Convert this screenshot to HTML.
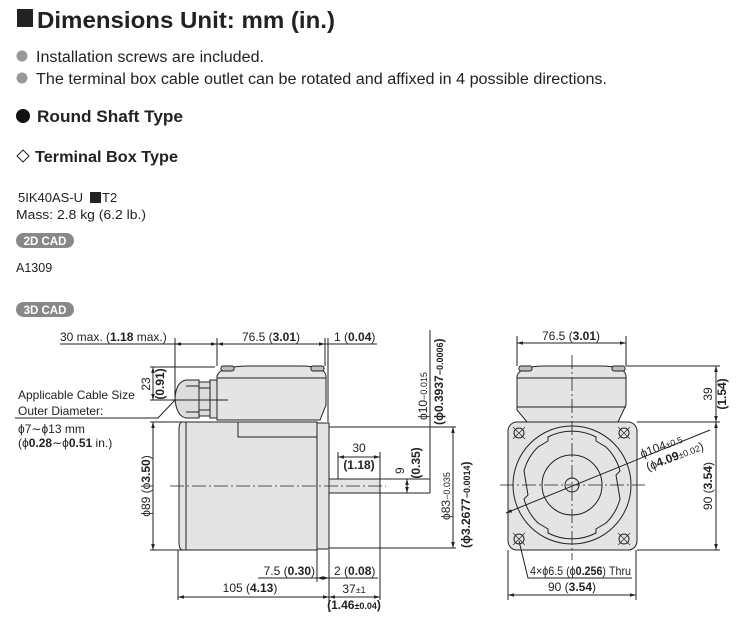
<!DOCTYPE html>
<html><head><meta charset="utf-8"><style>
html,body{margin:0;padding:0;background:#fff;}
svg{display:block;font-family:"Liberation Sans",sans-serif;}
</style></head><body>
<svg width="746" height="635" viewBox="0 0 746 635" xmlns="http://www.w3.org/2000/svg">
<defs>
<marker id="a" viewBox="0 0 10 10" refX="10" refY="5" markerWidth="6" markerHeight="6" orient="auto-start-reverse"><path d="M0,2L10,5L0,8z" fill="#222"/></marker>
</defs>
<!-- header -->
<rect x="17" y="9" width="16" height="18" fill="#222"/>
<text x="37" y="28" font-size="23" font-weight="bold" fill="#222" textLength="298" lengthAdjust="spacingAndGlyphs">Dimensions Unit: mm (in.)</text>
<circle cx="22" cy="56" r="5.5" fill="#999"/>
<text x="36" y="62" font-size="15.5" fill="#222" textLength="228" lengthAdjust="spacingAndGlyphs">Installation screws are included.</text>
<circle cx="22" cy="78" r="5.5" fill="#999"/>
<text x="36" y="84" font-size="15.5" fill="#222" textLength="571" lengthAdjust="spacingAndGlyphs">The terminal box cable outlet can be rotated and affixed in 4 possible directions.</text>
<circle cx="23" cy="116" r="7" fill="#111"/>
<text x="37" y="122" font-size="17" fill="#222" font-weight="bold" textLength="146" lengthAdjust="spacingAndGlyphs">Round Shaft Type</text>
<path d="M23,150L29,156L23,162L17,156z" fill="none" stroke="#222" stroke-width="1"/>
<text x="35" y="162" font-size="16" font-weight="bold" fill="#222" textLength="143" lengthAdjust="spacingAndGlyphs">Terminal Box Type</text>
<text x="18" y="202" font-size="13" fill="#222">5IK40AS-U</text>
<rect x="90" y="192" width="11" height="11" fill="#222"/>
<text x="102" y="202" font-size="13" fill="#222">T2</text>
<text x="16" y="219" font-size="13" fill="#222" textLength="130" lengthAdjust="spacingAndGlyphs">Mass: 2.8 kg (6.2 lb.)</text>
<rect x="16" y="233" width="58" height="15" rx="7.5" fill="#888"/>
<text x="45" y="245" font-size="11.5" font-weight="bold" fill="#fff" text-anchor="middle">2D CAD</text>
<text x="16" y="272" font-size="12.5" fill="#222">A1309</text>
<rect x="16" y="302" width="58" height="15" rx="7.5" fill="#888"/>
<text x="45" y="314" font-size="11.5" font-weight="bold" fill="#fff" text-anchor="middle">3D CAD</text>

<g stroke="#222" stroke-width="1" fill="none">
<!-- left view -->
<path d="M186,422 L182,422 Q179,422 179,430 L179,542 Q179,550 183,550 L186,550z" fill="#e4e4e4"/>
<rect x="186" y="422" width="131" height="128" fill="#e4e4e4"/>
<rect x="317" y="423" width="12" height="126" fill="#e4e4e4"/>
<rect x="238" y="422" width="79" height="15" fill="#e4e4e4"/>
<path d="M217,420 L217,376 Q220,366 250,366 L300,366 Q325,366 326,376 L326,405 L320,420z" fill="#e4e4e4"/>
<line x1="217" y1="378" x2="326" y2="378"/>
<rect x="221" y="366" width="13" height="5" rx="2" fill="#bbb"/>
<rect x="311" y="366" width="13" height="5" rx="2" fill="#bbb"/>
<path d="M210,380 L217,380 L217,418 L210,418z" fill="#ddd"/>
<path d="M199,382 L210,382 L210,416 L199,416z" fill="#ddd"/>
<path d="M186,380 Q176,382 175,398 Q176,416 186,418 L199,418 L199,380z" fill="#ddd"/>
<line x1="199" y1="388" x2="210" y2="388"/><line x1="199" y1="410" x2="210" y2="410"/>
<line x1="186" y1="386" x2="199" y2="386"/><line x1="186" y1="412" x2="199" y2="412"/>
<rect x="329" y="479" width="51" height="14" fill="#e4e4e4"/>
<line x1="170" y1="486" x2="386" y2="486" stroke-dasharray="14,3,2,3" stroke-width="0.8"/>
<!-- top dims -->
<line x1="60" y1="344" x2="175" y2="344"/>
<line x1="175" y1="344" x2="217" y2="344" marker-start="url(#a)" marker-end="url(#a)"/>
<line x1="217" y1="344" x2="325" y2="344" marker-start="url(#a)" marker-end="url(#a)"/>
<line x1="325" y1="344" x2="377" y2="344"/>
<line x1="175" y1="338" x2="175" y2="400"/>
<line x1="217" y1="338" x2="217" y2="366"/>
<line x1="325" y1="338" x2="325" y2="366"/>
<line x1="328" y1="338" x2="328" y2="422"/>
<!-- 23 -->
<line x1="150" y1="367" x2="215" y2="367"/><line x1="150" y1="400" x2="228" y2="400"/>
<line x1="153" y1="367" x2="153" y2="400" marker-start="url(#a)" marker-end="url(#a)"/>
<!-- cable leader -->
<polyline points="15,418 158,418 175,400"/>
<!-- phi89 -->
<line x1="150" y1="422" x2="188" y2="422"/><line x1="150" y1="550" x2="188" y2="550"/>
<line x1="153" y1="422" x2="153" y2="550" marker-start="url(#a)" marker-end="url(#a)"/>
<!-- bottom dims -->
<line x1="178" y1="550" x2="178" y2="600"/>
<line x1="317" y1="550" x2="317" y2="582"/>
<line x1="329" y1="550" x2="329" y2="612"/>
<line x1="380" y1="493" x2="380" y2="600"/>
<line x1="258" y1="578" x2="317" y2="578"/>
<line x1="317" y1="578" x2="329" y2="578" marker-start="url(#a)" marker-end="url(#a)"/>
<line x1="329" y1="578" x2="378" y2="578"/>
<line x1="178" y1="597" x2="329" y2="597" marker-start="url(#a)" marker-end="url(#a)"/>
<line x1="329" y1="597" x2="380" y2="597" marker-start="url(#a)" marker-end="url(#a)"/>
<!-- 30 shaft -->
<line x1="338" y1="452" x2="338" y2="479"/>
<line x1="338" y1="457" x2="380" y2="457" marker-start="url(#a)" marker-end="url(#a)"/>
<line x1="380" y1="452" x2="380" y2="479"/>
<!-- 9 -->
<line x1="380" y1="479" x2="430" y2="479"/><line x1="380" y1="493" x2="430" y2="493"/>
<line x1="407" y1="479" x2="407" y2="493" marker-start="url(#a)" marker-end="url(#a)"/>
<!-- phi10, phi83 -->
<line x1="430" y1="330" x2="430" y2="493"/>
<line x1="329" y1="427" x2="456" y2="427"/><line x1="329" y1="548" x2="456" y2="548"/>
<line x1="453" y1="427" x2="453" y2="548" marker-start="url(#a)" marker-end="url(#a)"/>
<!-- right view -->
<path d="M517,410 L517,376 Q520,366 545,366 L600,366 Q625,366 626,376 L626,405 L618,422 L527,422z" fill="#e4e4e4"/>
<line x1="517" y1="378" x2="626" y2="378"/><line x1="517" y1="407" x2="626" y2="407"/>
<rect x="519" y="366" width="13" height="5" rx="2" fill="#bbb"/>
<rect x="612" y="366" width="13" height="5" rx="2" fill="#bbb"/>
<rect x="508" y="422" width="129" height="128" rx="9" fill="#e4e4e4"/>
<circle cx="572" cy="485" r="59"/>
<path d="M548,437 A52,52 0 0 1 596,437 L596,441 L606,447 A52,52 0 0 1 620,471 L616,475 L620,499 A52,52 0 0 1 606,523 L596,529 L596,533 A52,52 0 0 1 548,533 L548,529 L538,523 A52,52 0 0 1 524,499 L528,495 L524,471 A52,52 0 0 1 538,447 L548,441 z"/>
<circle cx="572" cy="485" r="30"/>
<circle cx="572" cy="485" r="7"/>
<g>
<circle cx="519" cy="433" r="5"/><circle cx="624" cy="433" r="5"/><circle cx="519" cy="539" r="5"/><circle cx="624" cy="539" r="5"/>
<path d="M513,427l12,12M525,427l-12,12M618,427l12,12M630,427l-12,12M513,533l12,12M525,533l-12,12M618,533l12,12M630,533l-12,12" stroke-width="0.7"/>
</g>
<line x1="572" y1="355" x2="572" y2="560" stroke-dasharray="14,3,2,3" stroke-width="0.8"/>
<line x1="500" y1="485" x2="645" y2="485" stroke-dasharray="14,3,2,3" stroke-width="0.8"/>
<line x1="506" y1="513" x2="710" y2="430" marker-start="url(#a)"/>
<line x1="517" y1="336" x2="517" y2="366"/><line x1="626" y1="336" x2="626" y2="366"/>
<line x1="517" y1="343" x2="626" y2="343" marker-start="url(#a)" marker-end="url(#a)"/>
<line x1="626" y1="366" x2="720" y2="366"/><line x1="637" y1="422" x2="720" y2="422"/><line x1="637" y1="550" x2="720" y2="550"/>
<line x1="716" y1="366" x2="716" y2="422" marker-start="url(#a)" marker-end="url(#a)"/>
<line x1="716" y1="422" x2="716" y2="550" marker-start="url(#a)" marker-end="url(#a)"/>
<line x1="508" y1="550" x2="508" y2="600"/><line x1="636" y1="550" x2="636" y2="600"/>
<line x1="508" y1="595" x2="636" y2="595" marker-start="url(#a)" marker-end="url(#a)"/>
<polyline points="519,541 528,578 632,578"/>
</g>

<g font-size="12" fill="#222">
<text x="60" y="341">30 max. (<tspan font-weight="bold">1.18</tspan> max.)</text>
<text x="271" y="341" text-anchor="middle">76.5 (<tspan font-weight="bold">3.01</tspan>)</text>
<text x="334" y="341">1 (<tspan font-weight="bold">0.04</tspan>)</text>
<text x="18" y="399">Applicable Cable Size</text>
<text x="18" y="415">Outer Diameter:</text>
<text x="18" y="433">ϕ7∼ϕ13 mm</text>
<text x="18" y="447">(ϕ<tspan font-weight="bold">0.28</tspan>∼ϕ<tspan font-weight="bold">0.51</tspan> in.)</text>
<text transform="translate(150,384) rotate(-90)" text-anchor="middle">23</text>
<text transform="translate(164,384) rotate(-90)" text-anchor="middle" font-weight="bold">(0.91)</text>
<text transform="translate(150,486) rotate(-90)" text-anchor="middle">ϕ89 (ϕ<tspan font-weight="bold">3.50</tspan>)</text>
<text x="359" y="452" text-anchor="middle">30</text>
<text x="359" y="469" text-anchor="middle" font-weight="bold">(1.18)</text>
<text transform="translate(404,474) rotate(-90)">9</text>
<text transform="translate(420,463) rotate(-90)" text-anchor="middle" font-weight="bold">(0.35)</text>
<text transform="translate(427,420) rotate(-90)">ϕ10<tspan font-size="9">−0.015</tspan></text>
<text transform="translate(443,425) rotate(-90)" font-weight="bold">(ϕ0.3937<tspan font-size="9">−0.0006</tspan>)</text>
<text transform="translate(450,520) rotate(-90)">ϕ83<tspan font-size="9">−0.035</tspan></text>
<text transform="translate(470,548) rotate(-90)" font-weight="bold">(ϕ3.2677<tspan font-size="9">−0.0014</tspan>)</text>
<text x="315" y="575" text-anchor="end">7.5 (<tspan font-weight="bold">0.30</tspan>)</text>
<text x="334" y="575">2 (<tspan font-weight="bold">0.08</tspan>)</text>
<text x="250" y="592" text-anchor="middle">105 (<tspan font-weight="bold">4.13</tspan>)</text>
<text x="354" y="593" text-anchor="middle">37<tspan font-size="9">±1</tspan></text>
<text x="354" y="609" text-anchor="middle" font-weight="bold">(1.46<tspan font-size="9">±0.04</tspan>)</text>
<text x="571" y="340" text-anchor="middle">76.5 (<tspan font-weight="bold">3.01</tspan>)</text>
<text transform="translate(712,394) rotate(-90)" text-anchor="middle">39</text>
<text transform="translate(726,394) rotate(-90)" text-anchor="middle" font-weight="bold">(1.54)</text>
<text transform="translate(712,486) rotate(-90)" text-anchor="middle">90 (<tspan font-weight="bold">3.54</tspan>)</text>
<text transform="translate(642,458) rotate(-21)">ϕ104<tspan font-size="9">±0.5</tspan></text>
<text transform="translate(648,471) rotate(-21)">(ϕ<tspan font-weight="bold">4.09</tspan><tspan font-size="9">±0.02</tspan>)</text>
<text x="530" y="575" textLength="101" lengthAdjust="spacingAndGlyphs">4×ϕ6.5 (ϕ<tspan font-weight="bold">0.256</tspan>) Thru</text>
<text x="572" y="591" text-anchor="middle">90 (<tspan font-weight="bold">3.54</tspan>)</text>
</g>
</svg>
</body></html>
